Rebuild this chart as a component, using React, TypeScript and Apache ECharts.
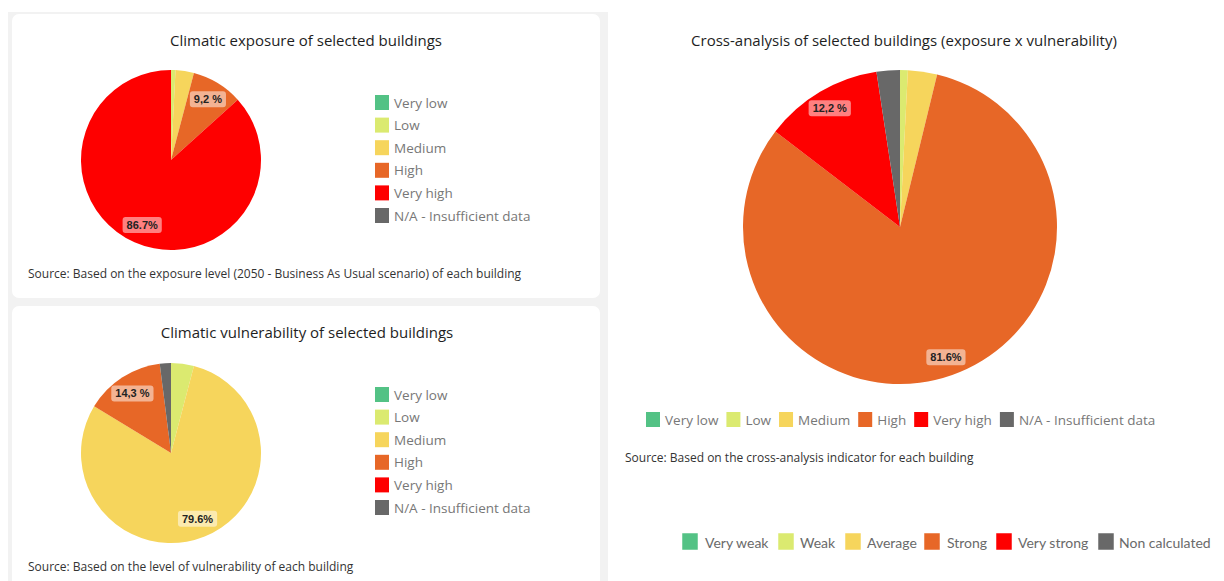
import React, { useEffect, useRef } from "react";
import * as echarts from "echarts";

const categories = ["Very low", "Low", "Medium", "High", "Very high", "N/A - Insufficient data"];
const palette = ["#53c285", "#dbea70", "#f6d55c", "#e76727", "#fe0000", "#686868"];

const exposureValues = [0, 0.8, 3.3, 9.2, 86.7, 0];
const exposureLabels = ["", "", "", "9,2 %", "86.7%", ""];

const vulnerabilityValues = [0, 4.1, 79.6, 14.3, 0, 2.0];
const vulnerabilityLabels = ["", "", "79.6%", "14,3 %", "", ""];

const crossValues = [0, 0.8, 3.0, 81.6, 12.2, 2.4];
const crossLabels = ["", "", "", "81.6%", "12,2 %", ""];

const bottomLegendNames = ["Very weak", "Weak", "Average", "Strong", "Very strong", "Non calculated"];

const titles = [
  "Climatic exposure of selected buildings",
  "Climatic vulnerability of selected buildings",
  "Cross-analysis of selected buildings (exposure x vulnerability)",
];
const sources = [
  "Source: Based on the exposure level (2050 - Business As Usual scenario) of each building",
  "Source: Based on the level of vulnerability of each building",
  "Source: Based on the cross-analysis indicator for each building",
];

const FONT = "'Open Sans', 'Noto Sans', sans-serif";

function pieData(values: number[]) {
  return categories.map((name, i) => ({
    name,
    value: values[i],
    itemStyle: { color: palette[i] },
  }));
}

function labelData(values: number[], labels: string[]) {
  return categories.map((name, i) => ({
    name,
    value: values[i],
    itemStyle: { color: "rgba(0,0,0,0)" },
    label: {
      show: labels[i] !== "",
      formatter: labels[i],
    },
  }));
}

function mainPie(center: number[], radius: number, values: number[]) {
  return {
    type: "pie",
    center,
    radius,
    startAngle: 90,
    clockwise: true,
    silent: true,
    avoidLabelOverlap: false,
    label: { show: false },
    labelLine: { show: false },
    emphasis: { disabled: true },
    data: pieData(values),
  };
}

function overlayPie(center: number[], radius: number, values: number[], labels: string[]) {
  return {
    type: "pie",
    center,
    radius: [radius - 44, radius],
    startAngle: 90,
    clockwise: true,
    silent: true,
    avoidLabelOverlap: false,
    z: 5,
    label: {
      position: "inside",
      fontFamily: "'Liberation Sans', Arial, sans-serif",
      fontWeight: "bold",
      fontSize: 11,
      color: "#222",
      backgroundColor: "rgba(255,255,255,0.5)",
      borderRadius: 3,
      padding: [3, 4, 2, 4],
    },
    labelLine: { show: false },
    emphasis: { disabled: true },
    data: labelData(values, labels),
  };
}

export default function App() {
  const ref = useRef<HTMLDivElement>(null);

  useEffect(() => {
    if (!ref.current) return;
    const chart = echarts.init(ref.current, null, { renderer: "svg" });

    const legendCommon = {
      data: categories,
      icon: "rect",
      itemWidth: 14,
      itemHeight: 15,
      padding: 0,
      selectedMode: false,
      textStyle: { fontFamily: FONT, fontSize: 13.5, color: "#777" },
    };

    const bottomIconX = [682, 778, 845, 924, 996, 1098];
    const bottomTextX = [705, 800, 867, 947, 1018, 1119];

    const titleStyle = { fill: "#1e1e1e", fontFamily: FONT, fontSize: 15, align: "center", verticalAlign: "middle", textAlign: "center", textVerticalAlign: "middle" };
    const sourceStyle = { fill: "#333", fontFamily: FONT, fontSize: 12, align: "left", verticalAlign: "middle", textAlign: "left", textVerticalAlign: "middle" };

    const graphic: any[] = [
      { type: "rect", z: -10, shape: { x: 8, y: 12, width: 600, height: 580 }, style: { fill: "#f2f2f2" }, silent: true },
      { type: "rect", z: -9, shape: { x: 12, y: 14, width: 588, height: 284, r: 7 }, style: { fill: "#ffffff" }, silent: true },
      { type: "rect", z: -9, shape: { x: 12, y: 306, width: 588, height: 290, r: 7 }, style: { fill: "#ffffff" }, silent: true },
      { type: "text", x: 306, y: 40, style: { ...titleStyle, text: titles[0] } },
      { type: "text", x: 307, y: 332, style: { ...titleStyle, text: titles[1] } },
      { type: "text", x: 904, y: 40, style: { ...titleStyle, text: titles[2] } },
      { type: "text", x: 28, y: 273, style: { ...sourceStyle, text: sources[0] } },
      { type: "text", x: 28, y: 566, style: { ...sourceStyle, text: sources[1] } },
      { type: "text", x: 625, y: 457, style: { ...sourceStyle, text: sources[2] } },
    ];

    bottomLegendNames.forEach((name, i) => {
      graphic.push({
        type: "rect",
        shape: { x: bottomIconX[i], y: 533, width: 16, height: 17 },
        style: { fill: palette[i], stroke: "rgba(255,255,255,0.5)", lineWidth: 1 },
        silent: true,
      });
      graphic.push({
        type: "text", x: bottomTextX[i], y: 542,
        style: { text: name, fill: "#6a6a6a", fontFamily: "Lato, 'Open Sans', sans-serif", fontSize: 14, align: "left", verticalAlign: "middle", textAlign: "left", textVerticalAlign: "middle" },
      });
    });

    chart.setOption({
      animation: false,
      backgroundColor: "#ffffff",
      legend: [
        { ...legendCommon, orient: "vertical", left: 375, top: 95, itemGap: 7.6 },
        { ...legendCommon, orient: "vertical", left: 375, top: 387, itemGap: 7.6 },
        { ...legendCommon, orient: "horizontal", left: 646, top: 412, itemGap: 8 },
      ],
      graphic,
      series: [
        mainPie([171, 160], 90, exposureValues),
        mainPie([171, 453], 90, vulnerabilityValues),
        mainPie([900, 227], 157, crossValues),
        overlayPie([171, 160], 90, exposureValues, exposureLabels),
        overlayPie([171, 453], 90, vulnerabilityValues, vulnerabilityLabels),
        overlayPie([900, 227], 157, crossValues, crossLabels),
      ],
    });

    return () => chart.dispose();
  }, []);

  return (
    <div
      ref={ref}
      style={{ position: "absolute", left: 0, top: 0, width: 1224, height: 581, background: "#fff" }}
    />
  );
}
